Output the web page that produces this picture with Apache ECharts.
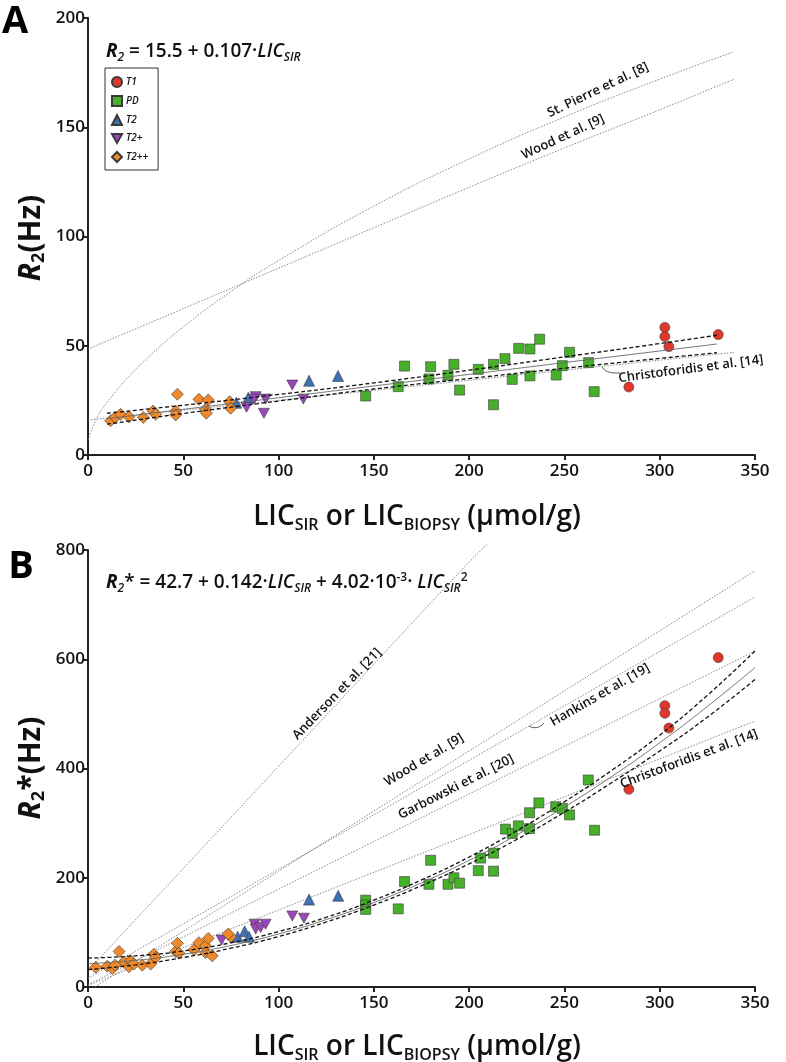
<!DOCTYPE html>
<html><head><meta charset="utf-8">
<script src="https://cdn.jsdelivr.net/npm/echarts@6/dist/echarts.min.js"></script>
<style>html,body{margin:0;padding:0;background:#fff}#c{width:786px;height:1062px}</style>
</head><body><div id="c"></div>
<script>
// ---------- data ----------
const xTicks = [0, 50, 100, 150, 200, 250, 300, 350];
const yTicksA = [0, 50, 100, 150, 200];
const yTicksB = [0, 200, 400, 600, 800];
const seriesNames = ['T1', 'PD', 'T2', 'T2+', 'T2++'];

// Panel A: R2 vs LIC
const aT1 = [[283.8,31.1],[302.7,58.4],[302.7,54.2],[304.8,49.6],[330.7,55.1]];
const aPD = [[145.7,27.0],[162.8,31.3],[166.1,40.7],[178.9,34.8],[179.8,40.4],[188.9,36.5],[192.0,41.5],[195.0,29.7],[204.8,39.2],[212.8,41.5],[212.8,23.0],[218.8,44.1],[222.6,34.6],[226.0,48.8],[231.9,48.5],[231.9,36.2],[237.0,53.0],[245.7,36.6],[248.9,40.9],[252.7,47.0],[262.7,42.3],[265.6,29.0]];
const aT2 = [[77.8,23.9],[84.1,26.2],[116.0,34.0],[131.2,36.2]];
const aT2p = [[83.2,21.8],[88.0,26.7],[87.1,25.5],[93.2,25.6],[92.3,19.1],[107.2,32.0],[113.0,25.6]];
const aT2pp = [[11.9,15.7],[14.2,17.2],[17.1,18.6],[21.5,17.5],[29.0,17.2],[34.1,20.1],[35.5,18.6],[46.0,20.1],[46.0,18.3],[46.9,27.8],[58.2,25.5],[63.1,25.2],[61.7,20.9],[62.1,19.1],[74.3,24.4],[74.8,21.4]];

const aStPierre = [[0,6.9],[5,17.5],[10,24.0],[20,34.5],[30,43.4],[50,58.6],[75,74.8],[100,89.0],[150,113.9],[200,135.5],[250,154.7],[300,172.0],[339,184.6]];
const aWood = [[0,48.5],[50,67.0],[100,85.5],[150,104.0],[200,122.5],[250,140.5],[300,158.0],[339,172.0]];
const aChristo = [[0,16.0],[50,20.5],[100,25.0],[150,29.6],[200,34.2],[250,38.8],[300,43.4],[339,47.0]];
const aFit = [[10,16.6],[50,20.9],[100,26.2],[150,31.6],[200,36.9],[250,42.3],[300,47.6],[330,50.8]];
const aFitUp = [[10,19.1],[50,22.8],[100,27.7],[150,33.0],[200,38.8],[250,44.9],[300,51.0],[330,54.8]];
const aFitLo = [[10,14.1],[50,19.0],[100,24.7],[150,30.2],[200,35.0],[250,39.7],[300,44.2],[330,46.8]];

// Panel B: R2* vs LIC
const bT1 = [[283.8,362],[302.7,515],[302.7,501],[304.8,474],[330.7,603]];
const bPD = [[145.7,159],[145.7,150],[145.7,142],[162.8,143],[166.1,193],[178.9,188],[179.8,232],[188.9,188],[192.0,200],[195.0,190],[204.8,213],[206.0,236],[212.8,212],[212.8,245],[219.1,289],[222.6,281],[225.8,295],[231.7,319],[231.7,290],[236.6,337],[245.4,330],[248.9,327],[252.7,315],[262.5,379],[265.8,287]];
const bT2 = [[78.5,92],[82.2,102],[84.5,92],[116.0,160],[131.3,167]];
const bT2p = [[70.1,86],[87.4,115],[88.0,106],[90.6,109],[93.2,115],[107.2,130],[113.3,126]];
const bT2pp = [[4.0,36],[10.1,38],[12.8,34],[14.2,40],[16.3,65],[18.9,46],[21.5,37],[22.4,48],[24.1,42],[28.5,40],[32.9,42],[34.6,60],[35.5,54],[46.0,65],[46.9,80],[47.7,62],[55.6,68],[58.2,81],[61.7,75],[63.1,89],[61.7,63],[65.2,57],[74.8,92],[73.6,97]];

const bAnderson = [[0,30],[50,217],[100,404],[150,591],[200,778],[210,812]];
const bWood = [[3.6,0],[100,212],[200,432],[350,762]];
const bHankins = [[0,16],[100,215.5],[200,415],[350,714]];
const bGarbowski = [[0,4.4],[100,179],[200,353.5],[350,615]];
const bChristo = [[0,3],[100,141],[200,279],[350,487]];
const bFit = [[0,42.7],[25,48.8],[50,59.9],[75,76.0],[100,97.1],[125,123.3],[150,154.5],[175,190.7],[200,231.9],[225,278.2],[250,329.5],[275,385.8],[300,447.1],[325,513.5],[350,584.9]];
const bFitUp = [[0,53],[25,57],[50,66],[75,81],[100,101.5],[125,127.5],[150,159],[175,196],[200,238],[225,286],[250,339],[275,397],[300,461],[325,534],[350,615]];
const bFitLo = [[0,32],[25,40.5],[50,54],[75,71],[100,92.5],[125,119],[150,150],[175,185.5],[200,225.5],[225,270],[250,320],[275,374.5],[300,432],[325,494],[350,563]];

// ---------- styling ----------
const FONT = 'Open Sans';
const colors = {T1:'#e0372c', PD:'#47b02a', T2:'#3f6fb5', 'T2+':'#9b47b9', 'T2++':'#f0892b'};
const symbols = {T1:['circle',10], PD:['rect',10], T2:['triangle',11], 'T2+':['path://M0,0L10,0L5,9Z',[11,10]], 'T2++':['diamond',12]};

function scatter(name, data, idx) {
  const s = symbols[name];
  return {type:'scatter', name, data, xAxisIndex:idx, yAxisIndex:idx,
    symbol:s[0], symbolSize:s[1], z:3,
    itemStyle:{color:colors[name], borderColor:'#3a3a3a', borderWidth:0.6, opacity:1}};
}
function refLine(data, idx, clip) {
  return {type:'line', data, xAxisIndex:idx, yAxisIndex:idx, symbol:'none', smooth:true, clip: clip !== false, z:2,
    lineStyle:{color:'#7a7a7a', width:0.9, type:[1.5,1.5]}, silent:true};
}
function fitLine(data, idx, dashed) {
  return {type:'line', data, xAxisIndex:idx, yAxisIndex:idx, symbol:'none', smooth:true, z:4, silent:true,
    lineStyle: dashed ? {color:'#111', width:1.3, type:[4,2.5]} : {color:'#666', width:0.9}};
}

function xAxis(idx) {
  return {type:'value', gridIndex:idx, min:0, max:350, interval:50,
    axisLine:{show:true, onZero:false, lineStyle:{color:'#222', width:2}},
    axisTick:{show:true, length:5, lineStyle:{color:'#222', width:2}},
    axisLabel:{fontFamily:FONT, fontWeight:600, fontSize:17, color:'#111', margin:8},
    splitLine:{show:false}};
}
function yAxis(idx, max, interval) {
  return {type:'value', gridIndex:idx, min:0, max, interval,
    axisLine:{show:true, onZero:false, lineStyle:{color:'#222', width:2}},
    axisTick:{show:true, length:5, lineStyle:{color:'#222', width:2}},
    axisLabel:{fontFamily:FONT, fontWeight:600, fontSize:17, color:'#111', margin:3},
    splitLine:{show:false}};
}

const series = [];
[[aT1,aPD,aT2,aT2p,aT2pp],[bT1,bPD,bT2,bT2p,bT2pp]].forEach((sets, idx) => {
  sets.forEach((d, k) => series.push(scatter(seriesNames[k], d, idx)));
});
series.push(refLine(aStPierre,0), refLine(aWood,0), refLine(aChristo,0));
series.push(fitLine(aFit,0,false), fitLine(aFitUp,0,true), fitLine(aFitLo,0,true));
series.push(refLine(bAnderson,1,false), refLine(bWood,1), refLine(bHankins,1), refLine(bGarbowski,1), refLine(bChristo,1));
series.push(fitLine(bFit,1,false), fitLine(bFitUp,1,true), fitLine(bFitLo,1,true));

const labelFont = {fontFamily:'Open Sans', fontWeight:600, fontSize:13, fill:'#111'};
function rotText(text, x, y, deg) {
  return {type:'text', x, y, rotation: deg*Math.PI/180, z:10,
    style:Object.assign({text, align:'center', verticalAlign:'middle'}, labelFont)};
}
function axisName(x, y) {
  return {type:'text', x, y, z:10, style:{
    text:'{n|LIC}{s|SIR}{n| or LIC}{s|BIOPSY}{n| (μmol/g)}', align:'center', verticalAlign:'middle',
    rich:{
      n:{fontFamily:FONT, fontWeight:600, fontSize:28, fill:'#111', lineHeight:32},
      s:{fontFamily:FONT, fontWeight:600, fontSize:16, fill:'#111', verticalAlign:'bottom', lineHeight:16}
    }}};
}
function yName(x, y, star) {
  return {type:'text', x, y, rotation: Math.PI/2, z:10, style:{
    text:'{r|R}{s|2}' + (star ? '{n|*}' : '') + '{n|(Hz)}', align:'center', verticalAlign:'middle',
    rich:{
      r:{fontFamily:FONT, fontSize:30, fontWeight:'bold', fontStyle:'italic', fill:'#111', lineHeight:34},
      s:{fontFamily:FONT, fontSize:18, fontWeight:'bold', fill:'#111', verticalAlign:'bottom', lineHeight:18},
      n:{fontFamily:FONT, fontSize:30, fontWeight:'bold', fill:'#111', lineHeight:34}
    }}};
}
const eqRich = {
  r:{fontFamily:FONT, fontSize:19, fontWeight:'bold', fontStyle:'italic', fill:'#111', lineHeight:23},
  i:{fontFamily:FONT, fontSize:19, fontWeight:600, fontStyle:'italic', fill:'#111', lineHeight:23},
  n:{fontFamily:FONT, fontSize:19, fontWeight:600, fill:'#111', lineHeight:23},
  s:{fontFamily:FONT, fontSize:12, fontWeight:600, fontStyle:'italic', fill:'#111', verticalAlign:'bottom', lineHeight:12},
  p:{fontFamily:FONT, fontSize:12, fontWeight:600, fill:'#111', verticalAlign:'top', lineHeight:12}
};

const graphic = [
  {type:'text', x:15, y:22, z:10, style:{text:'A', fontFamily:FONT, fontWeight:'bold', fontSize:38, fill:'#000', align:'center', verticalAlign:'middle'}},
  {type:'text', x:21, y:567, z:10, style:{text:'B', fontFamily:FONT, fontWeight:'bold', fontSize:38, fill:'#000', align:'center', verticalAlign:'middle'}},
  {type:'text', x:106, y:52, z:10, style:{text:'{r|R}{s|2}{n| = 15.5 + 0.107·}{i|LIC}{s|SIR}', verticalAlign:'middle', rich:eqRich}},
  {type:'text', x:106, y:583, z:10, style:{text:'{r|R}{s|2}{n|* = 42.7 + 0.142·}{i|LIC}{s|SIR}{n| + 4.02·10}{p|-3}{n|· }{i|LIC}{s|SIR}{p|2}', verticalAlign:'middle', rich:eqRich}},
  axisName(417, 517), axisName(417, 1047),
  yName(31, 238, false), yName(31, 768, true),
  rotText('St. Pierre et al. [8]', 598, 90, 25.6),
  rotText('Wood et al. [9]', 563, 137, 25),
  rotText('Christoforidis et al. [14]', 691, 369, 7.5),
  {type:'bezierCurve', z:10, shape:{x1:602, y1:367, x2:620, y2:373, cpx1:606, cpy1:373, cpx2:612, cpy2:373}, style:{stroke:'#333', lineWidth:0.8, fill:null}},
  rotText('Anderson et al. [21]', 337, 694, 46),
  rotText('Wood et al. [9]', 424, 760, 31),
  rotText('Garbowski et al. [20]', 456, 787, 27),
  rotText('Hankins et al. [19]', 600, 695, 30),
  {type:'bezierCurve', z:10, shape:{x1:529, y1:726, x2:544, y2:723, cpx1:534, cpy1:729, cpx2:540, cpy2:728}, style:{stroke:'#333', lineWidth:0.8, fill:null}},
  rotText('Christoforidis et al. [14]', 689, 759, 20.6)
];

const option = {
  animation:false,
  backgroundColor:'#fff',
  grid:[{left:88, top:18, width:667, height:437}, {left:88, top:550, width:667, height:437}],
  xAxis:[xAxis(0), xAxis(1)],
  yAxis:[yAxis(0,200,50), yAxis(1,800,200)],
  legend:{data:seriesNames, left:105, top:68, orient:'vertical', itemWidth:10, itemHeight:10, itemGap:7,
    padding:[8,10,7,6], borderColor:'#333', borderWidth:1, borderRadius:0, backgroundColor:'#fff',
    textStyle:{fontFamily:FONT, fontSize:10, fontStyle:'italic', fontWeight:600, color:'#111', padding:[0,0,0,-1]}},
  series, graphic
};
const chart = echarts.init(document.getElementById('c'));
chart.setOption(option);
</script></body></html>
